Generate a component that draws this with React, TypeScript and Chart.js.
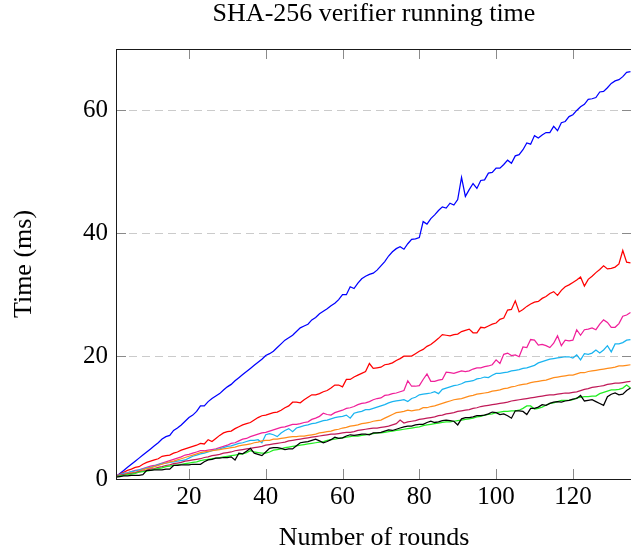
import { useEffect, useRef } from 'react';
import { Chart, registerables } from 'chart.js';

Chart.register(...registerables);

const TITLE = 'SHA-256 verifier running time';
const X_LABEL = 'Number of rounds';
const Y_LABEL = 'Time (ms)';

const ROUNDS = [
  1, 2, 3, 4, 5, 6, 7, 8, 9, 10, 11, 12, 13, 14, 15, 16, 17, 18, 19, 20,
  21, 22, 23, 24, 25, 26, 27, 28, 29, 30, 31, 32, 33, 34, 35, 36, 37, 38, 39, 40,
  41, 42, 43, 44, 45, 46, 47, 48, 49, 50, 51, 52, 53, 54, 55, 56, 57, 58, 59, 60,
  61, 62, 63, 64, 65, 66, 67, 68, 69, 70, 71, 72, 73, 74, 75, 76, 77, 78, 79, 80,
  81, 82, 83, 84, 85, 86, 87, 88, 89, 90, 91, 92, 93, 94, 95, 96, 97, 98, 99, 100,
  101, 102, 103, 104, 105, 106, 107, 108, 109, 110, 111, 112, 113, 114, 115, 116, 117, 118, 119, 120,
  121, 122, 123, 124, 125, 126, 127, 128, 129, 130, 131, 132, 133, 134, 135,
];

const X_TICKS = [20, 40, 60, 80, 100, 120];
const Y_TICKS = [0, 20, 40, 60];

const BLUE = [
  0.4, 0.9, 1.4, 1.9, 2.4, 2.9, 3.4, 3.9, 4.4, 4.9,
  5.4, 5.9, 6.5, 6.9, 7.1, 7.9, 8.3, 8.8, 9.4, 10.0,
  10.4, 11.0, 11.9, 11.9, 12.6, 13.1, 13.5, 13.9, 14.5, 15.0,
  15.4, 16.0, 16.5, 17.0, 17.5, 18.0, 18.5, 19.0, 19.5, 20.1,
  20.4, 20.8, 21.4, 22.0, 22.6, 23.0, 23.4, 24.0, 24.6, 24.9,
  25.2, 25.9, 26.3, 26.9, 27.3, 27.7, 28.2, 28.6, 29.2, 30.0,
  30.0, 31.3, 31.0, 31.9, 32.6, 33.0, 33.3, 33.5, 34.0, 34.7,
  35.4, 36.3, 37.0, 37.5, 37.8, 37.4, 38.3, 39.0, 39.1, 39.3,
  41.9, 41.5, 42.4, 43.0, 43.7, 44.3, 44.1, 44.9, 44.6, 45.5,
  49.1, 46.0, 47.1, 48.1, 47.3, 48.6, 48.7, 49.8, 49.9, 50.6,
  50.6, 51.2, 51.9, 51.4, 52.6, 52.8, 53.6, 54.7, 54.5, 55.9,
  55.5, 56.0, 56.4, 56.4, 57.4, 56.7, 58.0, 58.2, 59.0, 59.3,
  60.0, 60.6, 61.0, 61.8, 61.9, 62.1, 63.0, 63.1, 63.7, 64.4,
  64.8, 65.0, 65.5, 66.2, 66.3,
];

const RED = [
  0.4, 0.8, 1.1, 1.4, 1.6, 1.9, 2.0, 2.4, 2.7, 2.9,
  3.1, 3.3, 3.7, 3.8, 3.9, 4.2, 4.4, 4.7, 4.9, 5.1,
  5.3, 5.5, 5.8, 5.7, 6.4, 6.1, 6.6, 7.1, 7.5, 7.7,
  7.8, 8.2, 8.5, 8.8, 9.0, 9.2, 9.6, 10.0, 10.3, 10.4,
  10.6, 10.8, 10.9, 11.2, 11.6, 11.9, 12.5, 12.5, 12.4, 12.9,
  13.3, 13.7, 13.7, 13.9, 14.2, 14.4, 14.8, 15.3, 15.3, 15.0,
  16.2, 16.2, 16.6, 16.9, 17.2, 17.5, 18.8, 18.0, 18.1, 18.2,
  18.6, 18.7, 18.9, 19.3, 19.6, 20.0, 20.0, 20.0, 20.4, 20.8,
  21.1, 21.6, 21.9, 22.4, 22.9, 23.5, 23.4, 23.3, 23.5, 23.6,
  24.0, 24.2, 24.4, 23.8, 23.8, 24.7, 24.6, 24.9, 25.2, 25.4,
  26.0, 26.2, 27.5, 27.6, 29.0, 27.2, 27.6, 28.1, 28.5, 28.8,
  28.9, 29.4, 29.7, 30.2, 30.5, 29.9, 30.7, 31.3, 31.6, 32.0,
  32.4, 32.9, 31.4, 32.5, 33.0, 33.6, 34.1, 34.7, 34.2, 34.3,
  34.5, 35.0, 37.2, 35.3, 35.2,
];

const MAGENTA = [
  0.5, 0.7, 0.9, 1.0, 1.2, 1.4, 1.5, 1.7, 1.9, 2.1,
  2.2, 2.4, 2.6, 2.8, 3.0, 3.2, 3.4, 3.6, 3.9, 4.0,
  4.2, 4.4, 4.6, 4.6, 4.7, 4.8, 4.9, 5.1, 5.3, 5.5,
  5.8, 5.9, 6.2, 6.5, 6.6, 6.9, 7.1, 7.3, 7.5, 7.6,
  7.8, 8.0, 8.2, 8.4, 8.5, 8.7, 8.9, 8.9, 9.0, 9.2,
  9.3, 9.7, 9.9, 10.2, 10.7, 10.5, 10.4, 10.8, 11.0, 11.2,
  11.5, 11.6, 11.8, 12.1, 12.3, 12.4, 12.6, 12.9, 13.1, 13.2,
  13.6, 13.7, 13.9, 14.0, 14.2, 14.4, 16.0, 15.1, 15.1, 15.2,
  16.2, 17.1, 15.9, 15.9, 16.1, 16.2, 17.4, 17.3, 17.2, 17.4,
  17.6, 17.5, 17.6, 17.9, 18.1, 18.1, 18.3, 18.4, 18.6, 19.4,
  18.8, 20.3, 20.5, 20.1, 20.2, 19.9, 21.5, 21.4, 22.7, 22.6,
  21.8, 21.9, 21.7, 21.4, 22.1, 23.3, 21.7, 22.6, 22.5, 22.6,
  24.3, 23.4, 24.3, 24.4, 24.6, 24.3, 25.2, 25.9, 25.5, 24.7,
  24.7, 25.3, 26.5, 26.7, 27.1,
];

const CYAN = [
  0.4, 0.7, 0.9, 1.0, 1.2, 1.3, 1.5, 1.6, 1.8, 1.9,
  2.1, 2.3, 2.5, 2.6, 2.7, 2.8, 2.9, 3.0, 3.1, 3.4,
  3.7, 3.9, 4.1, 4.2, 4.4, 4.6, 4.8, 4.9, 5.1, 5.3,
  5.4, 5.6, 5.8, 5.9, 6.1, 6.3, 6.3, 6.4, 5.9, 7.2,
  7.4, 7.2, 6.9, 7.5, 7.9, 8.2, 7.7, 8.3, 8.5, 8.7,
  8.8, 9.0, 9.1, 9.3, 9.5, 9.6, 9.8, 10.0, 10.1, 10.2,
  10.4, 9.9, 10.7, 10.9, 11.0, 11.3, 11.3, 11.5, 11.7, 11.9,
  12.1, 12.4, 12.6, 12.7, 12.8, 12.9, 12.6, 13.1, 13.3, 13.7,
  13.8, 13.9, 14.0, 14.2, 13.9, 14.6, 14.8, 15.0, 15.2, 15.3,
  15.5, 15.8, 15.9, 16.0, 16.3, 16.4, 16.6, 16.5, 16.9, 17.2,
  17.2, 17.3, 17.4, 17.6, 17.7, 17.8, 18.0, 18.1, 18.3, 18.5,
  18.9, 19.1, 19.3, 19.5, 19.6, 19.7, 19.8, 19.9, 19.9, 19.7,
  20.2, 19.4, 20.4, 20.3, 20.5, 21.0, 20.5, 21.0, 21.7, 20.7,
  22.0, 22.0, 22.2, 22.6, 22.7,
];

const ORANGE = [
  0.5, 0.6, 0.7, 0.9, 1.0, 1.1, 1.3, 1.5, 1.7, 1.8,
  2.0, 2.2, 2.4, 2.6, 2.8, 2.9, 3.1, 3.3, 3.5, 3.7,
  3.9, 4.1, 4.3, 4.4, 4.5, 4.6, 4.7, 4.8, 4.9, 5.0,
  5.1, 5.2, 5.4, 5.5, 5.6, 5.7, 5.9, 6.0, 6.2, 6.3,
  6.3, 6.5, 6.5, 6.6, 6.7, 6.8, 6.9, 6.9, 7.0, 7.0,
  7.1, 7.2, 7.3, 7.5, 7.6, 7.7, 7.8, 8.0, 8.1, 8.3,
  8.4, 8.6, 8.7, 8.8, 9.0, 9.1, 9.2, 9.4, 9.5, 9.6,
  9.9, 10.2, 10.5, 10.8, 10.9, 11.0, 11.2, 11.1, 11.2, 11.3,
  11.6, 11.6, 11.8, 11.9, 12.1, 12.3, 12.5, 12.7, 12.9, 13.0,
  13.1, 13.3, 13.5, 13.6, 13.8, 13.9, 14.0, 14.1, 14.3, 14.4,
  14.5, 14.7, 14.8, 15.0, 15.1, 15.3, 15.4, 15.5, 15.7, 15.8,
  15.9, 16.0, 16.1, 16.3, 16.5, 16.6, 16.7, 16.8, 16.9, 16.9,
  17.1, 17.3, 17.3, 17.5, 17.6, 17.7, 17.8, 17.9, 18.0, 18.1,
  18.2, 18.4, 18.4, 18.5, 18.6,
];

const PURPLE = [
  0.5, 0.6, 0.7, 0.8, 0.9, 1.0, 1.2, 1.3, 1.4, 1.6,
  1.7, 1.9, 2.0, 2.2, 2.3, 2.5, 2.6, 2.7, 2.9, 3.0,
  3.1, 3.2, 3.3, 3.5, 3.6, 3.8, 3.9, 4.0, 4.2, 4.3,
  4.4, 4.6, 4.7, 4.8, 4.9, 5.0, 5.1, 5.2, 5.3, 5.5,
  5.6, 5.7, 5.8, 5.9, 6.0, 6.2, 6.3, 6.4, 6.5, 6.6,
  6.7, 6.8, 6.9, 7.0, 7.1, 7.2, 7.3, 7.3, 7.4, 7.5,
  7.6, 7.6, 7.7, 7.9, 8.0, 8.1, 8.2, 8.3, 8.3, 8.4,
  8.5, 8.6, 8.8, 9.0, 9.6, 9.1, 9.3, 9.4, 9.5, 9.7,
  9.8, 9.9, 10.0, 10.1, 10.3, 10.4, 10.6, 10.7, 10.8, 11.0,
  11.1, 11.2, 11.3, 11.5, 11.6, 11.8, 11.9, 12.0, 12.1, 12.2,
  12.3, 12.4, 12.5, 12.7, 12.8, 12.9, 13.0, 13.1, 13.2, 13.3,
  13.4, 13.5, 13.6, 13.7, 13.7, 13.8, 13.9, 14.0, 14.0, 14.1,
  14.2, 14.4, 14.6, 14.7, 14.9, 15.0, 15.1, 15.2, 15.4, 15.5,
  15.6, 15.6, 15.7, 15.8, 15.9,
];

const GREEN = [
  0.4, 0.5, 0.6, 0.7, 0.8, 0.9, 1.1, 1.2, 1.3, 1.4,
  1.6, 1.7, 1.8, 2.0, 2.1, 2.2, 2.3, 2.4, 2.5, 2.6,
  2.7, 2.8, 3.0, 3.1, 3.2, 3.3, 3.4, 3.5, 3.6, 3.7,
  3.8, 3.9, 4.0, 4.1, 4.3, 4.6, 4.4, 4.3, 4.2, 4.2,
  4.4, 4.7, 4.8, 4.9, 5.1, 5.2, 5.3, 5.4, 5.5, 5.6,
  5.7, 5.8, 5.9, 6.0, 6.1, 6.3, 6.4, 6.5, 6.6, 6.7,
  6.8, 6.9, 7.0, 7.0, 7.1, 7.2, 7.3, 7.4, 7.5, 7.5,
  7.6, 7.7, 7.8, 7.9, 8.0, 8.1, 8.2, 8.3, 8.4, 8.5,
  8.7, 8.8, 8.9, 9.0, 9.1, 9.2, 9.3, 9.3, 9.4, 9.5,
  9.6, 9.7, 9.8, 9.9, 10.1, 10.2, 10.4, 10.5, 10.6, 10.8,
  10.9, 11.0, 11.0, 11.1, 11.1, 11.2, 11.5, 11.9, 11.9, 11.4,
  11.5, 11.7, 12.0, 12.3, 12.4, 12.6, 12.8, 12.8, 12.8, 12.9,
  13.2, 13.3, 13.4, 13.4, 13.5, 13.5, 13.9, 14.1, 14.3, 14.5,
  14.5, 14.6, 14.8, 15.3, 14.8,
];

const BLACK = [
  0.3, 0.4, 0.5, 0.5, 0.6, 0.6, 0.6, 0.7, 1.4, 1.4,
  1.5, 1.5, 1.5, 1.6, 1.6, 2.2, 2.2, 2.3, 2.3, 2.3,
  2.4, 2.4, 2.4, 2.8, 3.1, 3.2, 3.4, 3.4, 3.5, 3.5,
  3.6, 3.1, 4.2, 4.1, 4.5, 5.0, 4.2, 4.0, 3.8, 4.4,
  5.0, 5.1, 5.1, 5.0, 4.8, 4.9, 4.9, 5.4, 5.9, 6.0,
  6.1, 6.3, 6.5, 6.2, 5.9, 6.1, 6.4, 6.8, 6.6, 6.7,
  7.0, 7.2, 7.1, 7.2, 7.3, 7.3, 7.2, 7.5, 7.5, 7.6,
  7.8, 8.0, 7.9, 8.1, 8.3, 8.5, 8.6, 8.6, 8.8, 8.9,
  8.9, 9.2, 9.4, 9.2, 9.3, 9.5, 9.6, 9.5, 9.4, 8.8,
  9.8, 10.0, 10.0, 10.1, 10.3, 10.3, 10.4, 10.6, 10.9, 10.8,
  10.5, 10.6, 10.3, 9.9, 11.1, 11.1, 11.0, 10.5, 11.5, 11.5,
  11.7, 12.1, 12.0, 12.3, 12.5, 12.6, 12.5, 12.7, 12.8, 13.0,
  13.1, 13.6, 12.7, 12.8, 12.9, 12.6, 12.3, 12.0, 13.4, 13.8,
  14.0, 13.7, 13.8, 14.4, 14.8,
];

const SERIES: { values: number[]; color: string }[] = [
  { values: BLACK, color: '#000000' },
  { values: GREEN, color: '#22ee22' },
  { values: PURPLE, color: '#c01a58' },
  { values: ORANGE, color: '#ff8c1a' },
  { values: CYAN, color: '#1ab4f0' },
  { values: MAGENTA, color: '#f0209a' },
  { values: RED, color: '#ff0000' },
  { values: BLUE, color: '#0000ff' },
];

const FONT_FAMILY = '"Liberation Serif", "Times New Roman", serif';
const TICK_FONT_SIZE = 25;
const LABEL_FONT_SIZE = 26;

const framePlugin = {
  id: 'pgfFrame',
  beforeDatasetsDraw(chart: any) {
    const { ctx, chartArea, scales } = chart;
    const { left, right } = chartArea;
    ctx.save();
    ctx.strokeStyle = '#cbcbcb';
    ctx.lineWidth = 1.1;
    ctx.setLineDash([8, 5]);
    for (const v of Y_TICKS) {
      if (v === 0) continue;
      const py = Math.round(scales.y.getPixelForValue(v)) + 0.5;
      ctx.beginPath();
      ctx.moveTo(left, py);
      ctx.lineTo(right, py);
      ctx.stroke();
    }
    ctx.restore();
  },
  afterDatasetsDraw(chart: any) {
    const { ctx, chartArea, scales } = chart;
    const { left, right, top, bottom } = chartArea;
    const L = 10;
    ctx.save();
    ctx.setLineDash([]);
    ctx.strokeStyle = '#8a8a8a';
    ctx.lineWidth = 1;
    for (const v of X_TICKS) {
      const px = Math.round(scales.x.getPixelForValue(v)) + 0.5;
      ctx.beginPath();
      ctx.moveTo(px, bottom);
      ctx.lineTo(px, bottom - L);
      ctx.moveTo(px, top);
      ctx.lineTo(px, top + L);
      ctx.stroke();
    }
    for (const v of Y_TICKS) {
      const py = Math.round(scales.y.getPixelForValue(v)) + 0.5;
      ctx.beginPath();
      ctx.moveTo(left, py);
      ctx.lineTo(left + L, py);
      ctx.moveTo(right, py);
      ctx.lineTo(right - L, py);
      ctx.stroke();
    }
    ctx.strokeStyle = '#1a1a1a';
    ctx.lineWidth = 1;
    ctx.strokeRect(Math.round(left) + 0.5, Math.round(top) + 0.5, Math.round(right - left), Math.round(bottom - top));
    ctx.restore();
  },
  afterDraw(chart: any) {
    const { ctx, chartArea } = chart;
    const cx = (chartArea.left + chartArea.right) / 2;
    const cy = (chartArea.top + chartArea.bottom) / 2;
    ctx.save();
    ctx.fillStyle = '#000';
    ctx.font = `${LABEL_FONT_SIZE}px ${FONT_FAMILY}`;
    ctx.textAlign = 'center';
    ctx.textBaseline = 'alphabetic';
    ctx.fillText(TITLE, cx, 21);
    ctx.fillText(X_LABEL, cx, 545);
    ctx.translate(31, cy);
    ctx.rotate(-Math.PI / 2);
    ctx.fillText(Y_LABEL, 0, 0);
    ctx.restore();
  },
};

export default function App() {
  const ref = useRef<HTMLCanvasElement>(null);

  useEffect(() => {
    if (!ref.current) return;
    const datasets = SERIES.map((s) => ({
      data: ROUNDS.map((r, i) => ({ x: r, y: s.values[i] })),
      borderColor: s.color,
      backgroundColor: s.color,
      borderWidth: 1.25,
      pointRadius: 0,
      tension: 0,
      fill: false,
    }));
    const tickFont = { family: FONT_FAMILY, size: TICK_FONT_SIZE };
    const chart = new Chart(ref.current, {
      type: 'line',
      data: { datasets },
      options: {
        animation: false,
        responsive: false,
        layout: { padding: { left: 0, right: 0, top: 49, bottom: 0 } },
        plugins: {
          legend: { display: false },
          tooltip: { enabled: false },
          title: { display: false },
        },
        scales: {
          x: {
            type: 'linear',
            min: 1,
            max: 135.4,
            afterBuildTicks: (s: any) => {
              s.ticks = X_TICKS.map((v) => ({ value: v }));
            },
            afterFit: (s: any) => {
              s.height = 76;
            },
            grid: { display: false, drawTicks: false },
            border: { display: false },
            ticks: { font: tickFont, color: '#000', padding: 3, maxRotation: 0, autoSkip: false },
          },
          y: {
            type: 'linear',
            min: 0,
            max: 70,
            afterBuildTicks: (s: any) => {
              s.ticks = Y_TICKS.map((v) => ({ value: v }));
            },
            afterFit: (s: any) => {
              s.width = 116;
            },
            grid: { display: false, drawTicks: false },
            border: { display: false },
            ticks: { font: tickFont, color: '#000', padding: 8 },
          },
        },
      },
      plugins: [framePlugin],
    });
    return () => chart.destroy();
  }, []);

  return (
    <div
      style={{
        position: 'absolute',
        left: 0,
        top: 0,
        width: 631,
        height: 555,
        overflow: 'hidden',
        background: '#fff',
      }}
    >
      <canvas ref={ref} width={632} height={555} style={{ display: 'block', width: 632, height: 555 }} />
    </div>
  );
}
